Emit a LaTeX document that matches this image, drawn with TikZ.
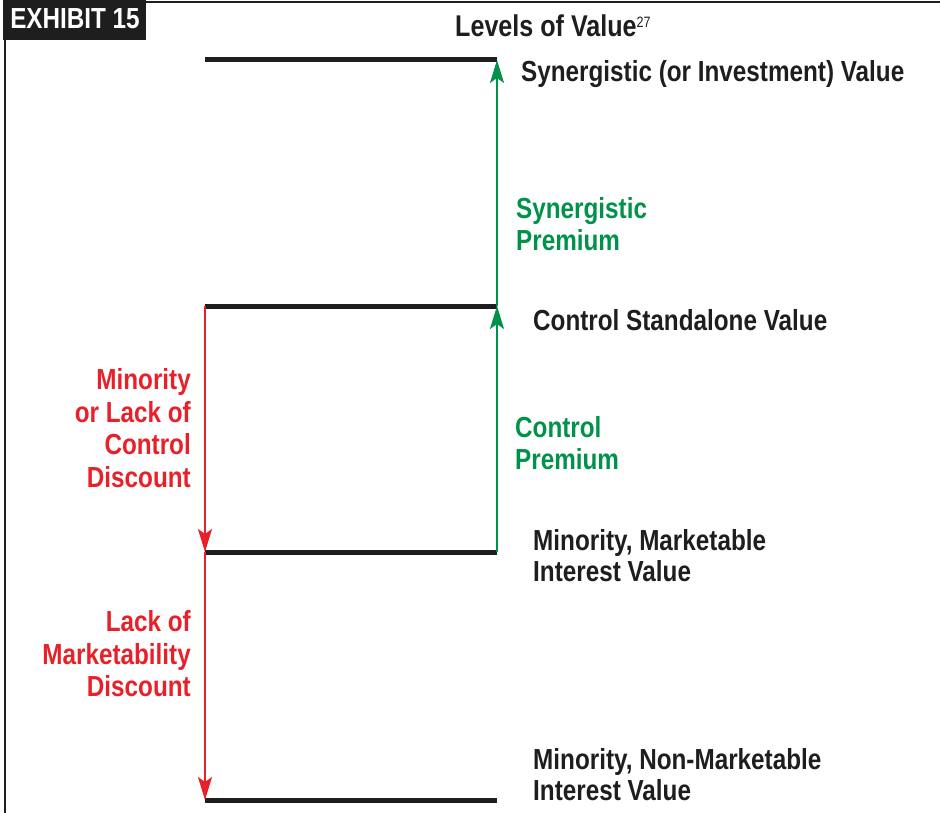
\documentclass[tikz,border=0pt]{standalone}
\usepackage{fontspec}
\setmainfont{Liberation Sans}[FakeStretch=0.837]
\usepackage{xcolor}
\usetikzlibrary{arrows.meta}

\definecolor{lvred}{HTML}{E8202A}
\definecolor{lvgreen}{HTML}{00924A}
\definecolor{lvink}{HTML}{1E1E1E}

\begin{document}
\begin{tikzpicture}[
	x=1pt, y=-1pt,
	level/.style={
		draw=lvink,
		line width=5pt
	},
	premium/.style={
		-{Stealth[length=23pt,width=14pt,inset=5pt]},
		line width=2pt,
		draw=lvgreen
	},
	discount/.style={
		-{Stealth[length=23pt,width=14pt,inset=5pt]},
		line width=2pt,
		draw=lvred
	},
	valtext/.style={
		anchor=west,
		align=left,
		inner sep=0pt,
		text=lvink,
		font=\fontsize{29}{31}\selectfont\bfseries
	},
	gaptext/.style={
		inner sep=0pt,
		font=\fontsize{29}{32.5}\selectfont\bfseries
	}
	]
	\useasboundingbox (0,0) rectangle (940,813);
	
	% Frame and heading
	\fill[lvink] (3,0) rectangle (146,40);
	\draw[lvink, line width=2.5pt] (5,813) -- (5,2) -- (940,2);
	\node[inner sep=0pt, text=white, font=\fontsize{29}{31}\selectfont\bfseries]
		(exhibit) at (75,19) {EXHIBIT 15};
	\node[anchor=west, inner sep=0pt, text=lvink, font=\fontsize{30}{32}\selectfont\bfseries]
		(title) at (455,26)
		{Levels of Value\raisebox{9pt}{\fontsize{15}{15}\selectfont\mdseries 27}};
	
	% Value levels
	\coordinate (syn_l) at (205,60);
	\coordinate (syn_r) at (497,60);
	\coordinate (ctl_l) at (205,306);
	\coordinate (ctl_r) at (497,306);
	\coordinate (mkt_l) at (205,552);
	\coordinate (mkt_r) at (497,552);
	\coordinate (nmk_l) at (205,800);
	\coordinate (nmk_r) at (497,800);
	
	\draw[level] (syn_l) -- (syn_r);
	\draw[level] (ctl_l) -- (ctl_r);
	\draw[level] (mkt_l) -- (mkt_r);
	\draw[level] (nmk_l) -- (nmk_r);
	
	% Premiums and discounts
	\draw[premium] (mkt_r) -- (ctl_r);
	\draw[premium] (ctl_r) -- (syn_r);
	\draw[discount] (ctl_l) -- (mkt_l);
	\draw[discount] (mkt_l) -- (nmk_l);
	
	% Level names
	\node[valtext] (syn_text) at (521,74)
	{Synergistic (or Investment) Value};
	\node[valtext] (ctl_text) at (533,320)
	{Control Standalone Value};
	\node[valtext] (mkt_text) at (533,556)
	{Minority, Marketable\\Interest Value};
	\node[valtext] (nmk_text) at (533,775)
	{Minority, Non-Marketable\\Interest Value};
	
	% Gap names
	\node[gaptext, anchor=west, align=left, text=lvgreen] (syn_prem) at (516,224)
	{Synergistic\\Premium};
	\node[gaptext, anchor=west, align=left, text=lvgreen] (ctl_prem) at (515,443)
	{Control\\Premium};
	\node[gaptext, anchor=east, align=right, text=lvred] (ctl_disc) at (191,428)
	{Minority\\or Lack of\\Control\\Discount};
	\node[gaptext, anchor=east, align=right, text=lvred] (mkt_disc) at (191,654)
	{Lack of\\Marketability\\Discount};
	
\end{tikzpicture}
\end{document}
